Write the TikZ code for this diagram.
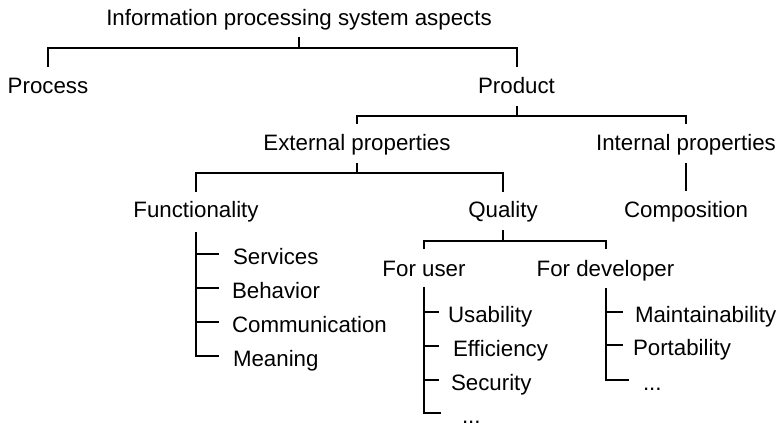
\documentclass[tikz,border=0pt]{standalone}
\usepackage{fontspec}
\setmainfont{Liberation Sans}
\begin{document}
\begin{tikzpicture}[x=1pt,y=-1pt,
  every node/.style={inner sep=0pt,outer sep=0pt,font=\fontsize{22.3}{26}\selectfont},
  head/.style={anchor=base},
  leaf/.style={anchor=west,text height=21pt,text depth=0pt},
  conn/.style={line width=2pt,black}]
\useasboundingbox (0,0) rectangle (780,427);
% headings
\node[head] (title) at (299,26) {Information processing system aspects};
\node[head] (process) at (48,94) {Process};
\node[head] (product) at (516.5,94) {Product};
\node[head] (ext) at (357,151) {External properties};
\node[head] (int) at (686,151) {Internal properties};
\node[head] (fun) at (196,218) {Functionality};
\node[head] (qual) at (503,218) {Quality};
\node[head] (comp) at (686,218) {Composition};
\node[head] (fuser) at (424,277) {For user};
\node[head] (fdev) at (605.5,277) {For developer};
% leaves
\node[leaf] (serv) at (233,254.5) {Services};
\node[leaf] (behav) at (232,288.5) {Behavior};
\node[leaf] (comm) at (232,322.5) {Communication};
\node[leaf] (mean) at (233,356.5) {Meaning};
\node[leaf] (usab) at (448,312.5) {Usability};
\node[leaf] (effi) at (453,346.5) {Efficiency};
\node[leaf] (secu) at (451,380.5) {Security};
\node[leaf] (udots) at (462,413.5) {...};
\node[leaf] (maint) at (635,312.5) {Maintainability};
\node[leaf] (port) at (633,345.5) {Portability};
\node[leaf] (ddots) at (643,380.5) {...};
% brackets
\draw[conn] ([yshift=-11pt]title.base) -- ([yshift=-22pt]title.base) -| ([yshift=27pt]process.base);
\draw[conn] ([yshift=-22pt]title.base) -| ([yshift=27pt]product.base);
\draw[conn] ([yshift=-12pt]product.base) -- ([yshift=-22pt]product.base) -| ([yshift=27pt]ext.base);
\draw[conn] ([yshift=-22pt]product.base) -| ([yshift=27pt]int.base);
\draw[conn] ([yshift=-12pt]int.base) -- ([yshift=27pt]comp.base);
\draw[conn] ([yshift=-12pt]ext.base) -- ([yshift=-22pt]ext.base) -| ([yshift=26pt]fun.base);
\draw[conn] ([yshift=-22pt]ext.base) -| ([yshift=26pt]qual.base);
\draw[conn] ([yshift=-12pt]qual.base) -- ([yshift=-23pt]qual.base) -| ([yshift=28pt]fuser.base);
\draw[conn] ([yshift=-23pt]qual.base) -| ([yshift=28pt]fdev.base);
% lists
\coordinate (fspine) at ([yshift=-14pt]fun.base);
\coordinate (uspine) at ([yshift=-10pt]fuser.base);
\coordinate (dspine) at ([yshift=-11pt]fdev.base);
\draw[conn] (fspine) -- (fspine |- mean.west) -- ++(23,0);
\draw[conn] (fspine |- serv.west) -- ++(23,0);
\draw[conn] (fspine |- behav.west) -- ++(23,0);
\draw[conn] (fspine |- comm.west) -- ++(23,0);
\draw[conn] (uspine) -- (uspine |- udots.west) -- ++(17,0);
\draw[conn] (uspine |- usab.west) -- ++(15,0);
\draw[conn] (uspine |- effi.west) -- ++(15,0);
\draw[conn] (uspine |- secu.west) -- ++(15,0);
\draw[conn] (dspine) -- (dspine |- ddots.west) -- ++(23,0);
\draw[conn] (dspine |- maint.west) -- ++(17,0);
\draw[conn] (dspine |- port.west) -- ++(17,0);
\end{tikzpicture}
\end{document}
